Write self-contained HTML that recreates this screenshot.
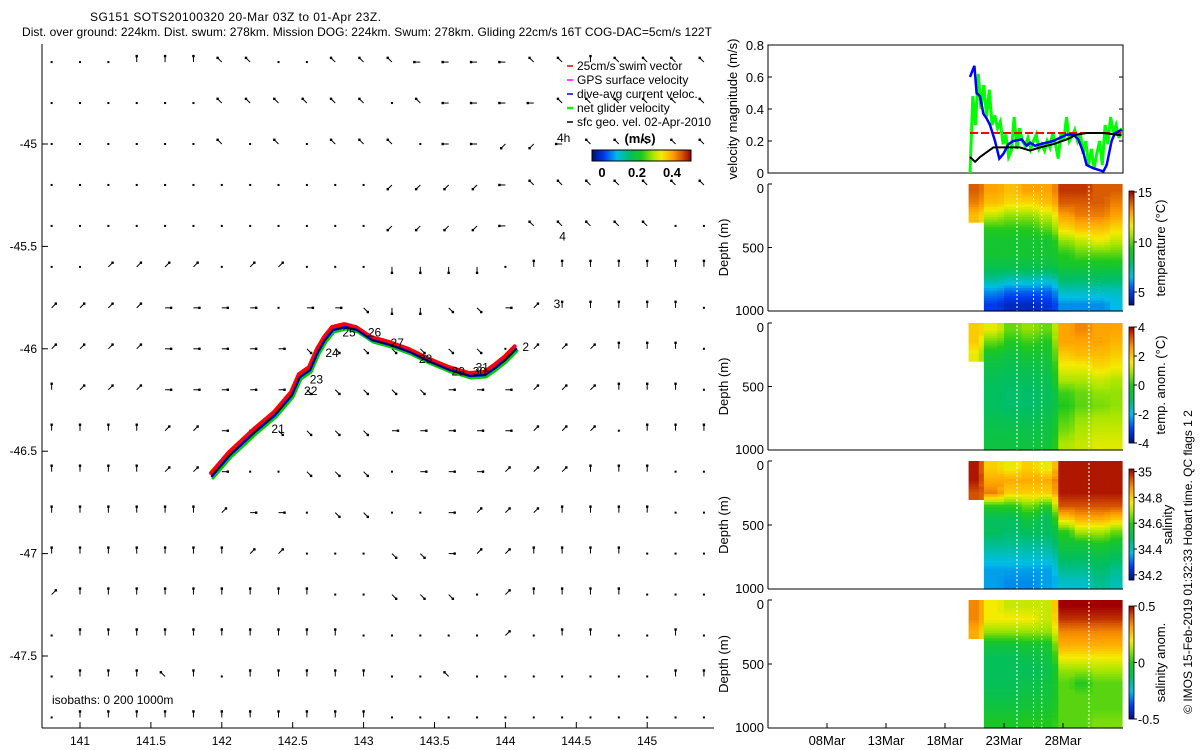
<!DOCTYPE html>
<html><head><meta charset="utf-8"><title>SG151 glider plot</title>
<style>
html,body{margin:0;padding:0;background:#fff;}
svg{display:block;font-family:"Liberation Sans",sans-serif;}
text{fill:#000;}
</style></head>
<body>
<svg id="fig" width="1200" height="750" viewBox="0 0 1200 750" xmlns="http://www.w3.org/2000/svg">
<g>
<text x="90" y="21" font-size="12" textLength="291">SG151 SOTS20100320 20-Mar 03Z to 01-Apr 23Z.</text>
<text x="22" y="36" font-size="12" textLength="690">Dist. over ground: 224km. Dist. swum: 278km. Mission DOG: 224km. Swum: 278km. Gliding 22cm/s 16T COG-DAC=5cm/s 122T</text>
</g>
<g id="map"></g>
<g id="legend">
<line x1="567" y1="66" x2="573" y2="66" stroke="#f00" stroke-width="1.5"/><text x="577" y="70" font-size="12">25cm/s swim vector</text>
<line x1="567" y1="80" x2="573" y2="80" stroke="#f0f" stroke-width="1.5"/><text x="577" y="84" font-size="12">GPS surface velocity</text>
<line x1="567" y1="94" x2="573" y2="94" stroke="#00f" stroke-width="1.5"/><text x="577" y="98" font-size="12">dive-avg current veloc.</text>
<line x1="567" y1="108" x2="573" y2="108" stroke="#0f0" stroke-width="2.5"/><text x="577" y="112" font-size="12">net glider velocity</text>
<line x1="567" y1="122" x2="573" y2="122" stroke="#000" stroke-width="1.5"/><text x="577" y="126" font-size="12">sfc geo. vel. 02-Apr-2010</text>
<text x="557" y="142" font-size="12">4h</text>
<text x="640" y="143" font-size="13" font-weight="bold" text-anchor="middle">(m/s)</text>
<rect id="spdbar" x="592" y="150" width="99" height="11" fill="none" stroke="#000"/>
<text x="602" y="177" font-size="13" font-weight="bold" text-anchor="middle">0</text>
<text x="637" y="177" font-size="13" font-weight="bold" text-anchor="middle">0.2</text>
<text x="672" y="177" font-size="13" font-weight="bold" text-anchor="middle">0.4</text>
</g>
<g id="right"></g>
<text transform="translate(1192,562) rotate(-90)" font-size="12" text-anchor="middle">© IMOS 15-Feb-2019 01:32:33 Hobart time. QC flags 1  2</text>
</svg>
<script>
const NS="http://www.w3.org/2000/svg";
// ---------------- map data ----------------
const lonTicks=[141,141.5,142,142.5,143,143.5,144,144.5,145];
const latTicks=[-45,-45.5,-46,-46.5,-47,-47.5];
const gridLons=[140.8,141,141.2,141.4,141.6,141.8,142,142.2,142.4,142.6,142.8,143,143.2,143.4,143.6,143.8,144,144.2,144.4,144.6,144.8,145,145.2,145.4];
const gridLats=[-44.6,-44.8,-45,-45.2,-45.4,-45.6,-45.8,-46,-46.2,-46.4,-46.6,-46.8,-47,-47.2,-47.4,-47.6,-47.8];
const vecRows=[
"...NNNbb..bbbWWWWbbNbbbb",
"......bbbbbb.bWWWWbbbbbb",
"......b.b.bbb.WWccWbbbbb",
"............ccccWbbbbbbb",
"............ccccWbbbbb..",
"..aaaa.aa...SSSS.NNNNNNN",
"aaaaEEEE.EEdSSddEaNNNNN.",
"aaaaEEEEEddddddd.aaaNNN.",
"NaaaEEEEEdddddEEEaaaNNN.",
"NNNNaaE.ddddEEEEEaaa.NNN",
"NNNNaaE..ddd.EEEaaaNNN..",
"NNNNNNaEE.dd..EaaaNNNN..",
"NNNNNNNaa...ddEaaNNNN...",
"aNNNNNNNNN..ddd.aNNNN...",
".NNNNNNNNNN.....a.NN..N.",
".NNNbN.NNNNN..b.......NN",
".NNNNNNNNNNN............"];
const trackLon=[141.931,142.058,142.234,142.375,142.495,142.551,142.622,142.678,142.728,142.784,142.869,142.953,143.059,143.186,143.327,143.468,143.609,143.750,143.856,143.927,143.997,144.075];
const trackLat=[-46.621,-46.519,-46.406,-46.323,-46.226,-46.138,-46.104,-46.016,-45.957,-45.908,-45.894,-45.908,-45.957,-45.981,-46.016,-46.064,-46.104,-46.133,-46.128,-46.094,-46.055,-46.001];
const dayLabels=["21","22","23","24","25","26","27","28","29","30","31","2","3","4"];
const dayLabLon=[142.35,142.58,142.62,142.73,142.85,143.03,143.19,143.39,143.62,143.77,143.79,144.12,144.34,144.38];
const dayLabLat=[-46.41,-46.225,-46.17,-46.04,-45.94,-45.94,-45.99,-46.07,-46.13,-46.13,-46.11,-46.01,-45.80,-45.47];
// ---------------- velocity panel data ----------------
const dacDays=[17.12,17.49,17.68,17.97,18.25,18.53,18.81,19.24,19.6,19.95,20.37,20.79,21.5,21.92,22.2,22.63,23.05,23.62,24.18,24.75,25.31,25.88,26.3,26.72,27.0,27.57,28.42,28.7,29.12,29.41,29.97];
const dacVals=[0.60,0.67,0.50,0.48,0.37,0.34,0.30,0.20,0.09,0.12,0.18,0.20,0.21,0.17,0.19,0.17,0.18,0.19,0.20,0.22,0.24,0.24,0.21,0.13,0.05,0.03,0.01,0.05,0.20,0.25,0.27];
const geoDays=[17.12,17.55,17.97,18.53,19.1,19.95,20.79,21.35,22.2,23.05,24.18,25.31,26.16,27.0,28.42,29.97];
const geoVals=[0.10,0.07,0.10,0.13,0.16,0.16,0.16,0.16,0.14,0.16,0.18,0.21,0.24,0.25,0.25,0.235];
const netVals=[0,0.48,0.30,0.62,0.40,0.55,0.35,0.52,0.30,0.36,0.28,0.32,0.18,0.24,0.10,0.14,0.35,0.15,0.28,0.20,0.17,0.22,0.15,0.20,0.24,0.15,0.18,0.14,0.20,0.16,0.25,0.18,0.09,0.25,0.20,0.35,0.20,0.23,0.27,0.20,0.25,0.12,0.20,0.05,0.15,0.03,0.12,0.20,0.05,0.30,0.18,0.35,0.25,0.30,0.22,0.28];
const swimSpeed=0.25;
const velTicks=[0,0.2,0.4,0.6,0.8];
const dateTicks=["08Mar","13Mar","18Mar","23Mar","28Mar"];
const dateTickDays=[5,10,15,20,25];
// ---------------- section data (segments x 100m bins) ----------------
const segDays=[17.0,18.3,20,21.5,23,24.6,26,27.5,29,30.0];
const tempVals=[
[14,13.5,12.5,null,null,null,null,null,null,null],
[13,12.5,11,9.5,9,9,8.5,7.5,6,5],
[12.5,12,10.5,9.5,9,9,8.5,7.2,5.5,4.5],
[13,12,10.5,9.5,9,9,8.5,7.2,5.5,4.5],
[13,12.5,11,10,9,9,8.5,7,5.5,4.8],
[14.5,14,13,12,10.5,9.5,9,8,7,6],
[14.5,14,13.5,12.5,11,10,9,8,7,6],
[14,14,13.5,12.5,11.5,10,9,8,7,6],
[14,13.5,13,12,11,10,9,8,7,6.5]];
const tanomVals=[
[2,2,1.5,null,null,null,null,null,null,null],
[1.5,0.5,-0.3,-0.6,-0.8,-0.9,-0.9,-0.7,-0.6,-0.5],
[0.5,0,-0.5,-0.7,-0.9,-1,-1,-0.8,-0.6,-0.5],
[0.8,0.2,-0.3,-0.6,-0.8,-1,-1,-0.8,-0.6,-0.5],
[0.5,0,-0.3,-0.5,-0.7,-0.8,-0.8,-0.6,-0.5,-0.4],
[2.5,2.5,2,1.5,1,0.2,0,0.3,0.6,1],
[2.8,2.5,2.2,1.5,1,0.5,0.4,0.8,1,1.2],
[2.5,2.5,2.2,1.8,1.2,0.8,0.6,1,1.2,1.4],
[2.5,2.3,2,1.6,1,0.8,0.8,1,1.2,1.4]];
const salVals=[
[35,35,34.95,null,null,null,null,null,null,null],
[34.8,34.85,34.9,34.6,34.5,34.5,34.45,34.4,34.35,34.35],
[34.75,34.85,34.8,34.6,34.5,34.48,34.45,34.4,34.35,34.33],
[34.8,34.85,34.8,34.65,34.55,34.5,34.45,34.4,34.35,34.33],
[34.75,34.85,34.8,34.6,34.5,34.5,34.45,34.4,34.35,34.35],
[35,35,35,34.95,34.8,34.6,34.55,34.5,34.45,34.4],
[35,35,35,34.95,34.85,34.7,34.55,34.5,34.45,34.4],
[35,35,35,34.95,34.85,34.7,34.58,34.52,34.48,34.45],
[35,35,35,34.95,34.82,34.65,34.55,34.5,34.45,34.42]];
const sanomVals=[
[0.35,0.35,0.3,null,null,null,null,null,null,null],
[0.2,0.2,0.1,-0.05,-0.1,-0.1,-0.1,-0.08,-0.05,-0.02],
[0.15,0.2,0.1,-0.05,-0.1,-0.1,-0.1,-0.08,-0.05,-0.02],
[0.15,0.2,0.1,-0.03,-0.08,-0.1,-0.08,-0.06,-0.04,0],
[0.15,0.15,0.1,-0.03,-0.06,-0.08,-0.06,-0.05,-0.03,0],
[0.5,0.45,0.35,0.3,0.2,0.1,0.05,0.05,0.05,0.05],
[0.5,0.45,0.35,0.3,0.2,0.1,0,0.05,0.05,0.05],
[0.5,0.45,0.35,0.3,0.2,0.12,0.05,0.05,0.05,0.08],
[0.5,0.45,0.35,0.3,0.2,0.12,0.05,0.05,0.05,0.08]];
const gapDays=[21.1,22.5,23.2,27.2];

// ---------------- helpers ----------------
function el(tag,attrs,parent){const e=document.createElementNS(NS,tag);for(const k in attrs)e.setAttribute(k,attrs[k]);parent.appendChild(e);return e;}
function txt(s,attrs,parent){const e=el('text',attrs,parent);e.textContent=s;return e;}
const xLon=lon=>80+(lon-141)*141.8;
const yLat=lat=>144+(-45-lat)*204.8;
const stops=[[0,[0,15,120]],[0.12,[0,60,240]],[0.25,[0,190,230]],[0.38,[0,190,100]],[0.5,[30,200,30]],[0.62,[170,230,0]],[0.7,[245,235,0]],[0.82,[255,160,0]],[0.92,[210,80,0]],[1,[160,0,0]]];
function cmap(t){t=Math.max(0,Math.min(1,t));for(let i=1;i<stops.length;i++){if(t<=stops[i][0]){const a=stops[i-1],b=stops[i];const f=(t-a[0])/(b[0]-a[0]);const c=a[1].map((v,k)=>Math.round(v+(b[1][k]-v)*f));return`rgb(${c[0]},${c[1]},${c[2]})`;}}return'rgb(160,0,0)';}

// ---------------- map ----------------
const map=document.getElementById('map');
let ax=el('line',{x1:42,y1:44,x2:42,y2:728,stroke:'#000'},map);

ax=el('line',{x1:42,y1:728,x2:714,y2:728,stroke:'#000'},map);

lonTicks.forEach(v=>{const x=xLon(v);el('line',{x1:x,y1:728,x2:x,y2:722,stroke:'#000'},map);
 const t=txt(String(v),{x:x,y:745,'font-size':12,'text-anchor':'middle'},map);
 });
latTicks.forEach(v=>{const y=yLat(v);el('line',{x1:42,y1:y,x2:48,y2:y,stroke:'#000'},map);
 const t=txt(String(v),{x:37,y:y+4,'font-size':12,'text-anchor':'end'},map);
 });
const it=txt('isobaths: 0   200  1000m',{x:52,y:704,'font-size':12},map);

const dirs={E:[1,0],N:[0,-1],W:[-1,0],S:[0,1],a:[0.7,-0.7],b:[-0.7,-0.7],c:[-0.7,0.7],d:[0.7,0.7]};
const vg=el('g',{},map);
gridLats.forEach((lat,r)=>{const row=vecRows[r]||'';gridLons.forEach((lon,c)=>{
 const ch=row[c]||'.';const x=xLon(lon),y=yLat(lat);
 if(ch==='.'||!dirs[ch]){el('rect',{x:x-1,y:y-1,width:2,height:2,fill:'#000'},vg);return;}
 const d=dirs[ch];const L=6;const x2=x+d[0]*L,y2=y+d[1]*L;
 const ln=el('line',{x1:x,y1:y,x2:x2,y2:y2,stroke:'#000','stroke-width':1},vg);
 
 el('rect',{x:x2-1.2,y:y2-1.2,width:2.4,height:2.4,fill:'#000'},vg);});});
const pts=(dx,dy)=>trackLon.map((l,i)=>(xLon(l)+dx).toFixed(1)+','+(yLat(trackLat[i])+dy).toFixed(1)).join(' ');
const tg=el('g',{fill:'none','stroke-linejoin':'round','stroke-linecap':'round'},map);

let p=el('polyline',{points:pts(-1,-3),stroke:'#f00','stroke-width':4,'stroke-dasharray':'2 1'},tg);
p=el('polyline',{points:pts(1,2),stroke:'#0c0','stroke-width':3},tg);
p=el('polyline',{points:pts(0,0),stroke:'#00f','stroke-width':2.5},tg);
p=el('polyline',{points:pts(0,0),stroke:'#000','stroke-width':1},tg);
dayLabels.forEach((s,i)=>{const t=txt(s,{x:xLon(dayLabLon[i]),y:yLat(dayLabLat[i]),'font-size':12},map);
 });
// speed colorbar fill
const sb=document.getElementById('spdbar');
for(let i=0;i<99;i++){el('rect',{x:592+i,y:150,width:1.2,height:11,fill:cmap(i/98)},sb.parentNode);}
sb.parentNode.appendChild(sb);

// ---------------- right panels ----------------
const R=document.getElementById('right');
const X0=768,X1=1123;
const xDay=d=>768+d*11.8;
const panels=[[45,173],[184,311],[323,450],[461,589],[600,728]];
// velocity
(function(){const [t,b]=panels[0];const yv=v=>b-(v/0.8)*(b-t);
 const g=el('g',{},R);
 el('rect',{x:X0,y:t,width:X1-X0,height:b-t,fill:'none',stroke:'#000'},g);
 velTicks.forEach(v=>{const y=yv(v);el('line',{x1:X0,y1:y,x2:X0+4,y2:y,stroke:'#000'},g);el('line',{x1:X1,y1:y,x2:X1-4,y2:y,stroke:'#000'},g);
  const tt=txt(String(v),{x:X0-4,y:y+5,'font-size':13,'text-anchor':'end'},g);});
 const yl=txt('velocity magnitude (m/s)',{transform:`translate(737,${(t+b)/2}) rotate(-90)`,'font-size':13,'text-anchor':'middle'},g);
 
 const step=(dacDays[dacDays.length-1]-dacDays[0])/(netVals.length-1);
 let s=el('polyline',{points:netVals.map((v,i)=>xDay(dacDays[0]+i*step).toFixed(1)+','+yv(v).toFixed(1)).join(' '),fill:'none',stroke:'#0f0','stroke-width':3},g);
 
 s=el('line',{x1:xDay(dacDays[0]),x2:xDay(segDays[segDays.length-1]),y1:yv(swimSpeed),y2:yv(swimSpeed),stroke:'#f00','stroke-width':2,'stroke-dasharray':'8 3'},g);
 
 s=el('polyline',{points:dacVals.map((v,i)=>xDay(dacDays[i]).toFixed(1)+','+yv(v).toFixed(1)).join(' '),fill:'none',stroke:'#00f','stroke-width':2.5},g);
 
 s=el('polyline',{points:geoVals.map((v,i)=>xDay(geoDays[i]).toFixed(1)+','+yv(v).toFixed(1)).join(' '),fill:'none',stroke:'#000','stroke-width':2},g);
 
})();
// sections
const sections=[[tempVals,3.7,15.1,[15,10,5],'temperature (°C)','temperature-panel'],
 [tanomVals,-4,4,[4,2,0,-2,-4],'temp. anom. (°C)','temp-anomaly-panel'],
 [salVals,34.16,35.02,[35,34.8,34.6,34.4,34.2],'salinity','salinity-panel'],
 [sanomVals,-0.5,0.5,[0.5,0,-0.5],'salinity anom.','salinity-anomaly-panel']];
const cbars=[[191,305],[327,443],[469,580],[606,719]];
sections.forEach((sec,k)=>{const [vals,lo,hi,ticks,label,name]=sec;const [t,b]=panels[k+1];
 const g=el('g',{},R);
 const yd=d=>t+d/1000*(b-t);
 const sub=5;
 for(let i=0;i<segDays.length-1;i++){const xa=xDay(segDays[i]),xb=xDay(segDays[i+1]);
  const nx=i+1<vals.length?vals[i+1]:vals[i];
  for(let j=0;j<10;j++){const v=vals[i][j];if(v==null)continue;
   for(let s=0;s<sub;s++){const dep=j*100+s*100/sub;const f=(s+0.5)/sub;
    let vv=v;const nb=f>0.5?vals[i][j+1]:vals[i][j-1];if(nb!=null&&nb!==undefined)vv=v+(nb-v)*Math.abs(f-0.5);
    for(let h=0;h<3;h++){let w=vv;const n2=nx[j];if(n2!=null&&h===2)w=vv+(n2-v)*0.3;
     el('rect',{x:(xa+(xb-xa)*h/3).toFixed(1),y:yd(dep).toFixed(1),width:((xb-xa)/3+0.6).toFixed(1),height:(100/sub/1000*(b-t)+0.6).toFixed(1),fill:cmap((w-lo)/(hi-lo))},g);}
   }}}
 gapDays.forEach(d=>{el('line',{x1:xDay(d),x2:xDay(d),y1:t+2,y2:b,stroke:'#fff','stroke-width':1,'stroke-dasharray':'2 2'},g);});
 el('rect',{x:X0,y:t-1,width:X1-X0+1,height:1,fill:'#fff'},g);
 el('line',{x1:X0,y1:t,x2:X0,y2:b,stroke:'#000'},g);el('line',{x1:X0,y1:b,x2:X1,y2:b,stroke:'#000'},g);
 [0,500,1000].forEach(d=>{const y=yd(d);el('line',{x1:X0,y1:y,x2:X0+4,y2:y,stroke:'#000'},g);
  const tt=txt(String(d),{x:X0-4,y:y+(d===0?9:d===1000?4:5),'font-size':13,'text-anchor':'end'},g);});
 const yl=txt('Depth (m)',{transform:`translate(728,${(t+b)/2}) rotate(-90)`,'font-size':13,'text-anchor':'middle'},g);
 
 const [ct,cb]=cbars[k];const cg=el('g',{},g);
 for(let y=ct;y<cb;y++){el('rect',{x:1129,y:y,width:5,height:1.2,fill:cmap(1-(y-ct)/(cb-ct))},cg);}
 el('rect',{x:1129,y:ct,width:5,height:cb-ct,fill:'none',stroke:'#000','stroke-width':0.8},cg);
 ticks.forEach(v=>{const y=cb-(v-lo)/(hi-lo)*(cb-ct);el('line',{x1:1134,y1:y,x2:1137,y2:y,stroke:'#000'},cg);
  const tt=txt(String(v),{x:1138,y:y+5,'font-size':12.5},cg);});
 const cl=txt(label,{transform:`translate(${k===2?1172:1165},${(ct+cb)/2}) rotate(-90)`,'font-size':13,'text-anchor':'middle'},cg);
 
});
dateTicks.forEach((s,i)=>{const x=xDay(dateTickDays[i]);el('line',{x1:x,y1:728,x2:x,y2:723,stroke:'#000'},R);
 const tt=txt(s,{x:x,y:745,'font-size':13,'text-anchor':'middle'},R);});
</script>
</body></html>
